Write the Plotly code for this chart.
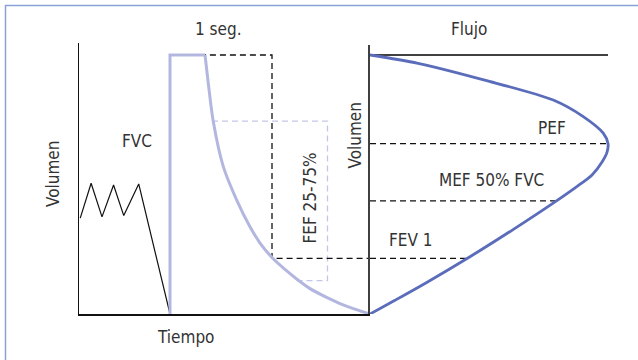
import plotly.graph_objects as go

W, H = 638, 360

# ---- Volume-time panel: time (s, 0 = start of forced expiration), volume (% FVC)
tidal_time = [-1.82, -1.66, -1.50, -1.33, -1.18, -0.96, -0.50]
tidal_volume = [37.0, 50.5, 37.5, 49.8, 38.0, 50.2, 0.0]

step_time = [-0.50, -0.50, 0.015]
step_volume = [0.0, 100.0, 100.0]

forced_time = [0.015, 0.063, 0.137, 0.284, 0.481, 0.676, 0.824, 1.015, 1.191, 1.363, 1.559, 1.804, 2.0, 2.196, 2.44]
forced_volume = [100.0, 89.1, 74.2, 56.9, 44.0, 33.7, 27.4, 21.4, 17.2, 13.5, 9.8, 6.4, 4.05, 2.1, 0.0]

fev1_time = [-0.06, 1.0, 1.0, 2.44]
fev1_volume = [100.0, 100.0, 21.5, 21.5]

fef_time = [0.118, 1.816, 1.816, 1.363]
fef_volume = [74.5, 74.5, 12.9, 12.9]

# ---- Flow-volume panel: flow (% PEF), expired volume (% FVC)
flow = [0, 20.2, 48.2, 77.0, 89.6, 98.0, 100.0, 99.6, 97.5, 93.3, 86.6, 78.2, 60.1, 42.0, 23.1, 10.5, 0]
expired = [0, 3.2, 9.7, 17.4, 23.8, 30.2, 34.2, 37.5, 41.3, 46.3, 51.0, 56.4, 67.4, 77.9, 88.2, 94.7, 100]

ref_names = ["PEF", "MEF 50% FVC", "FEV 1"]
ref_expired = [34.2, 56.3, 78.5]
ref_flow = [100.0, 78.0, 42.0]

FONT = "Liberation Sans Narrow, DejaVu Sans Condensed, Arial Narrow, sans-serif"
TXT = "#333333"
LAV = "#b3b7df"
LAV_D = "#c3c6e7"
BLUE = "#5b6cbb"

fig = go.Figure()

# left panel traces
fig.add_trace(go.Scatter(x=tidal_time, y=tidal_volume, mode="lines",
                         line=dict(color="#111111", width=1.2), xaxis="x", yaxis="y"))
fig.add_trace(go.Scatter(x=fef_time, y=fef_volume, mode="lines",
                         line=dict(color=LAV_D, width=1.3, dash="6px,4px"), xaxis="x", yaxis="y"))
fig.add_trace(go.Scatter(x=fev1_time, y=fev1_volume, mode="lines",
                         line=dict(color="#111111", width=1.3, dash="6px,4px"), xaxis="x", yaxis="y"))
fig.add_trace(go.Scatter(x=step_time, y=step_volume, mode="lines",
                         line=dict(color=LAV, width=3), xaxis="x", yaxis="y"))
fig.add_trace(go.Scatter(x=forced_time, y=forced_volume, mode="lines",
                         line=dict(color=LAV, width=3, shape="spline", smoothing=0.8),
                         xaxis="x", yaxis="y"))

# right panel traces
fig.add_trace(go.Scatter(x=[0, 100], y=[0, 0], mode="lines",
                         line=dict(color="#404040", width=2), xaxis="x2", yaxis="y2"))
for e, f in zip(ref_expired, ref_flow):
    fig.add_trace(go.Scatter(x=[0, f], y=[e, e], mode="lines",
                             line=dict(color="#111111", width=1.3, dash="6px,4px"),
                             xaxis="x2", yaxis="y2"))
fig.add_trace(go.Scatter(x=flow, y=expired, mode="lines",
                         line=dict(color=BLUE, width=2.8, shape="spline", smoothing=0.8),
                         xaxis="x2", yaxis="y2"))

def px_x(p):
    return p / W

def px_y(p):
    return 1 - p / H

t_min = (79 - 204) / 68
t_max = (370 - 204) / 68
v_top = (314 - 43) / 259 * 100

fig.update_layout(
    width=W, height=H,
    margin=dict(l=0, r=0, t=0, b=0),
    paper_bgcolor="white", plot_bgcolor="rgba(0,0,0,0)",
    showlegend=False,
    hovermode=False,
    xaxis=dict(domain=[px_x(79), px_x(370)], range=[t_min, t_max], anchor="y",
               showline=True, linecolor="#111111", linewidth=1.5, showgrid=False,
               zeroline=False, showticklabels=False, ticks=""),
    yaxis=dict(domain=[px_y(314), px_y(43)], range=[0, v_top], anchor="x",
               showline=True, linecolor="#111111", linewidth=1.5, showgrid=False,
               zeroline=False, showticklabels=False, ticks=""),
    xaxis2=dict(domain=[px_x(370), px_x(625)], range=[0, (625 - 370) / 238 * 100], anchor="y2",
                showline=False, showgrid=False, zeroline=False, showticklabels=False, ticks=""),
    yaxis2=dict(domain=[px_y(314), px_y(45)], range=[100, -(55 - 45) / 259 * 100], anchor="x2",
                showline=True, linecolor="#404040", linewidth=2, showgrid=False,
                zeroline=False, showticklabels=False, ticks=""),
    shapes=[
        dict(type="line", xref="paper", yref="paper", x0=px_x(5), x1=1.0,
             y0=px_y(5.5), y1=px_y(5.5), line=dict(color="#8aa2d8", width=1.5)),
        dict(type="line", xref="paper", yref="paper", x0=px_x(5.5), x1=px_x(5.5),
             y0=px_y(5), y1=0, line=dict(color="#8aa2d8", width=1.5)),
    ],
)

labels = [
    ("1 seg.", 218, 29, 0),
    ("Flujo", 469, 29, 0),
    ("FVC", 137, 141, 0),
    ("Tiempo", 185, 337, 0),
    ("Volumen", 53, 174, -90),
    ("Volumen", 354, 135.5, -90),
    ("FEF 25-75%", 309, 198.5, -90),
    (ref_names[0], 552, 127.5, 0),
    (ref_names[1], 491.5, 180, 0),
    (ref_names[2], 411.5, 240, 0),
]
for text, x, y, ang in labels:
    fig.add_annotation(text=text, x=px_x(x), y=px_y(y), xref="paper", yref="paper",
                       showarrow=False, textangle=ang, xanchor="center", yanchor="middle",
                       font=dict(family=FONT, size=17, color=TXT))

fig.write_html("out.html", config={"displayModeBar": False, "staticPlot": True},
               post_script="document.body.style.margin='0';")
